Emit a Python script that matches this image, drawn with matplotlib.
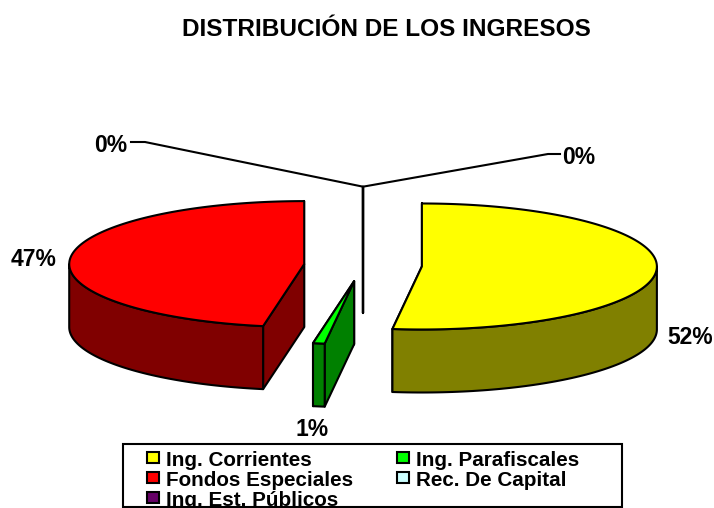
import numpy as np
import matplotlib
matplotlib.use("Agg")
import matplotlib.pyplot as plt
from matplotlib.patches import Polygon, Rectangle

plt.rcParams["font.family"] = ["Liberation Sans", "DejaVu Sans"]

# datos
categorias = ["Ing. Corrientes", "Ing. Parafiscales", "Fondos Especiales", "Rec. De Capital", "Ing. Est. Públicos"]
valores = [52.0, 0.8, 47.2, 0, 0]
colores = ["#FFFF00", "#00FF00", "#FF0000", "#CCFFFF", "#660066"]
colores_lado = ["#808000", "#008000", "#800000", "#668080", "#330033"]

# geometria del pastel en pixeles de la figura
cx, cy = 363, 265.5
rx, ry = 235, 63
explode = 59
depth = 63

fig = plt.figure(figsize=(7.14, 5.08), dpi=100)
ax = fig.add_axes([0, 0, 1, 1])
ax.set_xlim(0, 714)
ax.set_ylim(508, 0)
ax.axis("off")


def borde(x0, y0, t):
    # angulo en grados desde arriba, sentido horario
    t = np.radians(t)
    return x0 + rx * np.sin(t), y0 - ry * np.cos(t)


def dibuja(puntos, color, lw=1.5, z=2):
    ax.add_patch(Polygon(puntos, closed=True, facecolor=color, edgecolor="black",
                         linewidth=lw, joinstyle="round", zorder=z))


total = sum(valores)
inicio = 0.0
puntas = []
for val, col, lado in zip(valores, colores, colores_lado):
    fin = inicio + 360.0 * val / total
    medio = np.radians((inicio + fin) / 2)
    x0 = cx + explode * np.sin(medio)
    y0 = cy - explode * ry / rx * np.cos(medio)
    puntas.append(borde(x0, y0, fin))

    # caras de corte, primero la de atras
    for ang in (fin, inicio):
        xb, yb = borde(x0, y0, ang)
        dibuja([(x0, y0), (xb, yb), (xb, yb + depth), (x0, y0 + depth)], lado)

    # pared exterior, solo la parte de enfrente
    a = max(inicio, 90)
    b = min(fin, 270)
    if b > a:
        ts = np.linspace(a, b, 80)
        xs, ys = borde(x0, y0, ts)
        pared = list(zip(xs, ys)) + list(zip(xs[::-1], ys[::-1] + depth))
        dibuja(pared, lado)

    # tapa
    ts = np.linspace(inicio, fin, 160)
    xs, ys = borde(x0, y0, ts)
    dibuja([(x0, y0)] + list(zip(xs, ys)), col)

    inicio = fin

# lineas guia de las rebanadas de 0%
codos = [(548, 154, 560), (145, 142, 131)]
for (px, py), (ex, ey, fx) in zip(puntas[3:], codos):
    ax.plot([px, ex, fx], [py, ey, ey], color="black", lw=1.5, zorder=3)

# etiquetas
pos_etiquetas = [(690, 337), (312, 429), (34, 259), (579, 157), (111, 145)]
for val, (x, y) in zip(valores, pos_etiquetas):
    ax.text(x, y, f"{round(val)}%", fontsize=16.5, fontweight="bold", ha="center", va="center")

ax.text(386, 30, "DISTRIBUCIÓN DE LOS INGRESOS", fontsize=17.6, fontweight="bold",
        ha="center", va="center")

# leyenda
ax.add_patch(Rectangle((123, 444), 499, 63, facecolor="white", edgecolor="black", linewidth=1.5, zorder=4))
filas = [458, 478, 498]
columnas = [147, 397]
indices = [(0, 0), (1, 0), (0, 1), (1, 1), (0, 2)]
for nombre, col, (ic, ifila) in zip(categorias, colores, indices):
    xs = columnas[ic]
    ys = filas[ifila]
    ax.add_patch(Rectangle((xs, ys - 6), 12, 11, facecolor=col, edgecolor="black", linewidth=1.5, zorder=5))
    ax.text(xs + 19, ys + 8, nombre, fontsize=14.9, fontweight="bold", ha="left", va="baseline", zorder=5)

fig.savefig("out.png", dpi=100)
